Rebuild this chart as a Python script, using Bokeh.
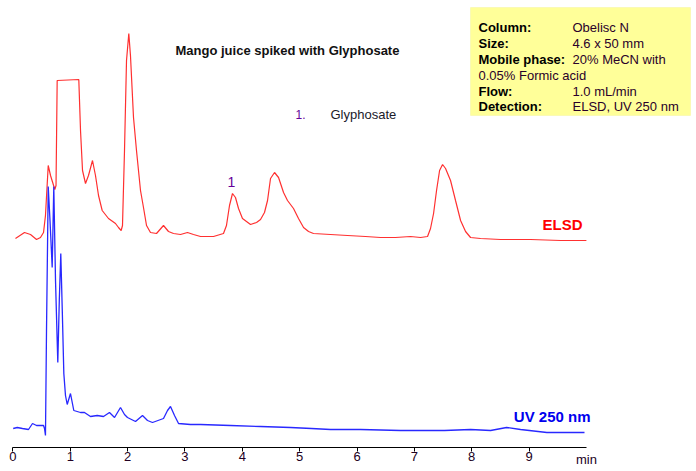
from bokeh.plotting import figure
from bokeh.models import Range1d, Label, BoxAnnotation, FixedTicker, LinearAxis
from bokeh.embed import file_html
from bokeh.resources import INLINE

# ---- data (time in min, detector response in display units) ----
elsd_time = [0.045, 0.202, 0.307, 0.412, 0.481, 0.534, 0.568, 0.616, 0.656, 0.731, 0.752,
             0.772, 1.149, 1.179, 1.214, 1.266, 1.318, 1.388, 1.440, 1.493, 1.557, 1.667,
             1.789, 1.841, 1.888, 1.911, 1.946, 1.981, 2.021, 2.050, 2.103, 2.155, 2.225,
             2.277, 2.330, 2.399, 2.504, 2.626, 2.713, 2.800, 2.922, 3.044, 3.149, 3.271,
             3.498, 3.672, 3.724, 3.777, 3.829, 3.881, 3.934, 4.003, 4.143, 4.248, 4.318,
             4.387, 4.440, 4.492, 4.562, 4.632, 4.719, 4.788, 4.893, 4.980, 5.068, 5.155,
             5.241, 5.538, 5.835, 6.148, 6.410, 6.671, 6.933, 7.108, 7.230, 7.282, 7.335,
             7.387, 7.440, 7.492, 7.544, 7.631, 7.718, 7.806, 7.893, 7.980, 8.154, 8.503,
             9.027, 9.550, 10.0]
elsd_signal = [209, 215, 213, 208, 210, 215, 232, 282, 272, 258, 262,
               367, 368, 317, 277, 264, 272, 287, 272, 252, 237, 229,
               224, 220, 217, 222, 297, 387, 414, 392, 330, 297, 257,
               240, 222, 215, 214, 222, 216, 214, 213, 215, 213, 211,
               211, 214, 222, 242, 254, 250, 239, 229, 223, 225, 228,
               235, 247, 269, 275, 270, 255, 247, 239, 229, 220, 216,
               214, 213, 212, 211, 210, 210, 211, 210, 211, 219, 234,
               257, 277, 283, 279, 267, 247, 227, 216, 210, 209, 208,
               208, 207, 207]

uv_time = [0.005, 0.075, 0.167, 0.272, 0.342, 0.412, 0.534, 0.551, 0.568, 0.586, 0.616,
           0.647, 0.685, 0.713, 0.743, 0.783, 0.809, 0.835, 0.861, 0.888, 0.917, 0.947,
           1.004, 1.062, 1.179, 1.248, 1.353, 1.470, 1.580, 1.684, 1.772, 1.876, 1.946,
           1.998, 2.138, 2.260, 2.347, 2.434, 2.626, 2.696, 2.748, 2.818, 2.888, 3.096,
           3.271, 3.794, 4.318, 4.840, 5.206, 5.538, 6.061, 6.758, 7.526, 7.980, 8.329,
           8.608, 8.852, 9.311, 9.967]
uv_signal = [19, 20, 19, 18, 24, 22, 22, 19, 12, 117, 261,
             227, 180, 261, 167, 85, 147, 194, 137, 74, 52, 43,
             54, 37, 35, 35, 31, 32, 31, 35, 30, 40, 33,
             30, 26, 32, 27, 25, 29, 37, 41, 32, 24, 23,
             23, 22, 21, 20, 19, 18, 18, 17, 17, 18, 17,
             20, 18, 15, 15]

tick_values = [0, 1, 2, 3, 4, 5, 6, 7, 8, 9]
unit_tick = [10]
unit_label = "min"

info_keys = ["Column:", "Size:", "Mobile phase:", "", "Flow:", "Detection:"]
info_vals = ["Obelisc N", "4.6 x 50 mm", "20% MeCN with", "0.05% Formic acid",
             "1.0 mL/min", "ELSD, UV 250 nm"]

# ---- pixel helpers for text placement ----
PX0, PPM, AX = 12.4, 57.35, 447.0
def tx(px):
    return (px - PX0) / PPM
def ty(py):
    return AX - py

W, H = 696, 471
AXIS_H = 24

p = figure(width=W, height=H, output_backend="svg", toolbar_location=None,
           x_range=Range1d(tx(0), tx(W)), y_range=Range1d(ty(H - AXIS_H), ty(0)),
           min_border_left=0, min_border_right=0, min_border_top=0,
           min_border_bottom=AXIS_H)
p.outline_line_color = None
p.grid.visible = False
p.yaxis.visible = False
p.background_fill_color = "white"
p.border_fill_color = "white"

xa = p.xaxis[0]
xa.bounds = (0, 10)
xa.ticker = FixedTicker(ticks=tick_values)
xa.minor_tick_line_color = None
xa.major_tick_in = 0
xa.major_tick_out = 4
xa.major_label_standoff = 0
xa.major_label_text_font = "Liberation Sans"
xa.major_label_text_font_size = "13px"
xa.major_label_text_color = "#220022"
xa.axis_line_color = "black"
xa.major_tick_line_color = "black"

# unit label "min" as a second, line-less axis tucked under the first
ua = LinearAxis(ticker=FixedTicker(ticks=unit_tick),
                major_label_overrides={10: unit_label},
                axis_line_color=None, major_tick_line_color=None,
                minor_tick_line_color=None, major_tick_in=0, major_tick_out=0,
                major_label_standoff=-12,
                major_label_text_font="Liberation Sans",
                major_label_text_font_size="13px",
                major_label_text_color="#220022")
p.add_layout(ua, "below")

p.line(elsd_time, elsd_signal, line_color="#FF3030", line_width=1.2)
p.line(uv_time, uv_signal, line_color="#2828FF", line_width=1.3)

# info box
p.add_layout(BoxAnnotation(left=tx(470), right=tx(690), top=ty(7), bottom=ty(115),
                           fill_color="#FFFF99", fill_alpha=1.0, line_color="#F0F080",
                           line_width=1))
baselines = [27.3, 43.1, 58.9, 74.7, 90.5, 106.3]
for i, (k, v) in enumerate(zip(info_keys, info_vals)):
    if k:
        p.add_layout(Label(x=tx(478), y=ty(baselines[i]), text=k, text_font="Liberation Sans",
                           text_font_size="13px", text_font_style="bold", text_color="black",
                           text_baseline="alphabetic"))
        p.add_layout(Label(x=tx(572), y=ty(baselines[i]), text=v, text_font="Liberation Sans",
                           text_font_size="13px", text_color="#2a002a",
                           text_baseline="alphabetic"))
    else:
        p.add_layout(Label(x=tx(478), y=ty(baselines[i]), text=v, text_font="Liberation Sans",
                           text_font_size="13px", text_color="#2a002a",
                           text_baseline="alphabetic"))

p.add_layout(Label(x=tx(175), y=ty(49.5), text="Mango juice spiked with Glyphosate",
                   text_font="Liberation Sans", text_font_size="13px", text_font_style="bold",
                   text_color="#111111", text_baseline="alphabetic"))
p.add_layout(Label(x=tx(295), y=ty(114.3), text="1.", text_font="Liberation Sans",
                   text_font_size="12px", text_color="#660099", text_baseline="alphabetic"))
p.add_layout(Label(x=tx(330), y=ty(114.3), text="Glyphosate", text_font="Liberation Sans",
                   text_font_size="13px", text_color="#1a1a2a", text_baseline="alphabetic"))
p.add_layout(Label(x=tx(231), y=ty(181.5), text="1", text_font="Liberation Sans",
                   text_font_size="14px", text_color="#660099", text_align="center",
                   text_baseline="alphabetic"))
p.add_layout(Label(x=tx(582), y=ty(224), text="ELSD", text_font="Liberation Sans",
                   text_font_size="15px", text_font_style="bold", text_color="#FF0000",
                   text_align="right", text_baseline="alphabetic"))
p.add_layout(Label(x=tx(590), y=ty(416), text="UV 250 nm", text_font="Liberation Sans",
                   text_font_size="15px", text_font_style="bold", text_color="#0000EE",
                   text_align="right", text_baseline="alphabetic"))

open("out.html", "w").write(file_html(p, INLINE))
